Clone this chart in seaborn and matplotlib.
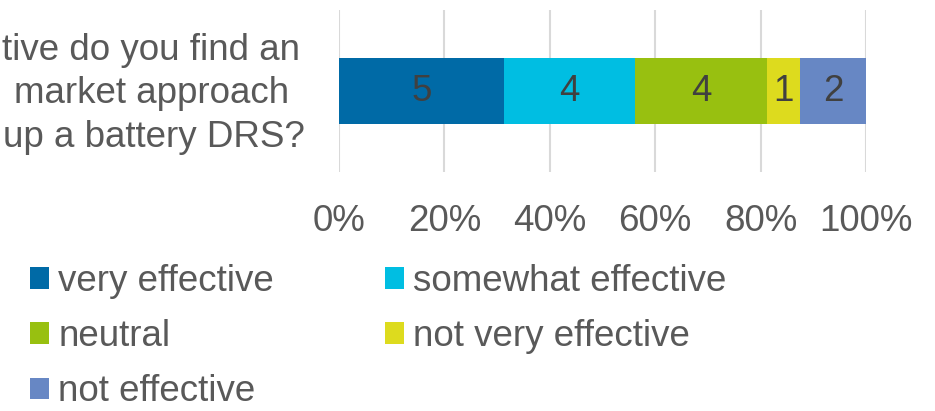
import matplotlib
matplotlib.use("Agg")
import matplotlib.pyplot as plt
import seaborn as sns
import pandas as pd
from matplotlib.patches import Patch

# ---- data ----
categories = ["very effective", "somewhat effective", "neutral", "not very effective", "not effective"]
counts = [5, 4, 4, 1, 2]
colors = ["#006AA6", "#00BEE2", "#98C010", "#DDDB1E", "#6787C4"]
question_lines = ["tive do you find an", "market approach", "up a battery DRS?"]
xticks = [0, 20, 40, 60, 80, 100]
xtick_labels = ["0%", "20%", "40%", "60%", "80%", "100%"]

total = sum(counts)
pct = [c / total * 100 for c in counts]
starts = [sum(pct[:i]) for i in range(len(pct))]
df = pd.DataFrame({"category": categories, "count": counts, "pct": pct,
                   "start": starts, "row": ["q"] * len(counts)})

sns.set_theme(style="white")
plt.rcParams["font.family"] = ["Liberation Sans", "DejaVu Sans"]

FS = 26.5
TXT = "#595959"

fig = plt.figure(figsize=(9.35, 4.11), dpi=100)
ax = fig.add_axes([339 / 935, 1 - 172 / 411, 527 / 935, 162 / 411])

for i, r in df.iterrows():
    sns.barplot(data=df.iloc[[i]], x="pct", y="row", orient="h", left=r["start"],
                color=colors[i], width=0.41, saturation=1, ax=ax, errorbar=None,
                linewidth=0, edgecolor="none")
    ax.bar_label(ax.containers[-1], labels=[str(r["count"])], label_type="center",
                 fontsize=FS, color="#404040")

ax.set_xlim(0, 100)
ax.set_ylim(0.5, -0.5)
ax.set_xticks(xticks)
ax.set_xticklabels(xtick_labels, fontsize=FS, color=TXT)
ax.set_yticks([])
ax.set_xlabel("")
ax.set_ylabel("")
ax.tick_params(axis="x", length=0, pad=23)
ax.grid(axis="x", color="#D9D9D9", linewidth=1.5)
ax.set_axisbelow(True)
for s in ax.spines.values():
    s.set_visible(False)

# question text (clipped at left in the original)
rights = [300, 289, 305]
baselines = [60, 103, 147]
for line, rx, by in zip(question_lines, rights, baselines):
    fig.text(rx / 935, 1 - by / 411, line, ha="right", va="baseline", fontsize=FS, color=TXT)

# legend (column-major order so rows read as in the original)
order = [0, 2, 4, 1, 3]
handles = [Patch(facecolor=colors[i], edgecolor="none") for i in order]
labels = [categories[i] for i in order]
leg = fig.legend(handles, labels, loc="upper left", bbox_to_anchor=(30 / 935, 1 - 264 / 411),
                 ncol=2, frameon=False, fontsize=FS, handlelength=0.52, handleheight=0.52,
                 handletextpad=0.25, columnspacing=3.0, labelspacing=0.55, borderpad=0,
                 borderaxespad=0)
for t in leg.get_texts():
    t.set_color(TXT)

fig.savefig("out.png", dpi=100)
